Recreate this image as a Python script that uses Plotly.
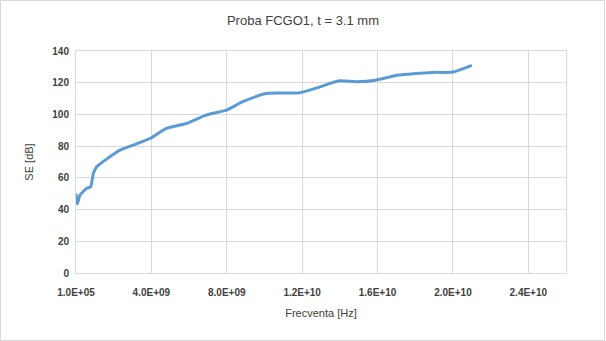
import plotly.graph_objects as go

freq = [1e5, 0.07e9, 0.21e9, 0.57e9, 0.78e9, 0.92e9, 1.1e9, 1.8e9, 2.33e9, 3.03e9,
        3.92e9, 4.8e9, 5.86e9, 6.9e9, 7.97e9, 8.85e9, 10.1e9, 11.85e9, 12.7e9,
        13.97e9, 14.85e9, 15.9e9, 17.1e9, 18.0e9, 18.9e9, 20.0e9, 21.0e9]
se = [50, 43.5, 49, 53.4, 54.4, 62.8, 67, 73.3, 77.5, 80.6,
      84.8, 91.2, 94.3, 99.6, 102.7, 108, 113.2, 113.6, 116.4,
      121.2, 120.6, 121.6, 124.8, 125.8, 126.5, 126.8, 131]

x_tickvals = [1e5, 4e9, 8e9, 1.2e10, 1.6e10, 2.0e10, 2.4e10]
x_ticktext = ["1.0E+05", "4.0E+09", "8.0E+09", "1.2E+10", "1.6E+10", "2.0E+10", "2.4E+10"]
y_tickvals = [0, 20, 40, 60, 80, 100, 120, 140]

W, H = 606, 341
L, R, T, B = 76, 40, 51, 68
pw = W - L - R
ph = H - T - B

fig = go.Figure()
fig.add_trace(go.Scatter(x=freq, y=se, mode="lines",
                         line=dict(color="#5B9BD5", width=3, shape="spline", smoothing=0.6),
                         showlegend=False, hoverinfo="skip"))

fig.update_layout(
    width=W, height=H,
    margin=dict(l=L, r=R, t=T, b=B),
    paper_bgcolor="white", plot_bgcolor="white",
    title=dict(text="Proba FCGO1, t = 3.1 mm", x=0.5, xanchor="center",
               y=1 - 20 / H, yanchor="middle",
               font=dict(family="Liberation Sans", size=13, color="#404040")),
    xaxis=dict(range=[0, 2.6e10], tickvals=x_tickvals, ticktext=x_ticktext,
               showgrid=True, gridcolor="#D9D9D9", gridwidth=1,
               showline=True, linecolor="#D9D9D9", mirror=True, zeroline=False,
               ticks="", ticklabelstandoff=10,
               tickfont=dict(family="Liberation Sans", size=10, color="#404040", weight="bold"),
               title=dict(text="Frecventa [Hz]", standoff=12,
                          font=dict(family="Liberation Sans", size=11, color="#404040"))),
    yaxis=dict(range=[0, 140], tickvals=y_tickvals,
               showgrid=True, gridcolor="#D9D9D9", gridwidth=1,
               showline=True, linecolor="#D9D9D9", mirror=True, zeroline=False,
               ticks="", ticklabelstandoff=4,
               tickfont=dict(family="Liberation Sans", size=10, color="#404040", weight="bold"),
               title=dict(text="SE [dB]", standoff=16,
                          font=dict(family="Liberation Sans", size=11, color="#404040"))),
)

# outer chart border
fig.add_shape(type="rect", xref="paper", yref="paper",
              x0=(0.5 - L) / pw, x1=(W - 1.5 - L) / pw,
              y0=-(H - 0.5 - (H - B)) / ph, y1=1 + (T - 0.5) / ph,
              line=dict(color="#D9D9D9", width=1), layer="below")

fig.write_html("out.html")
